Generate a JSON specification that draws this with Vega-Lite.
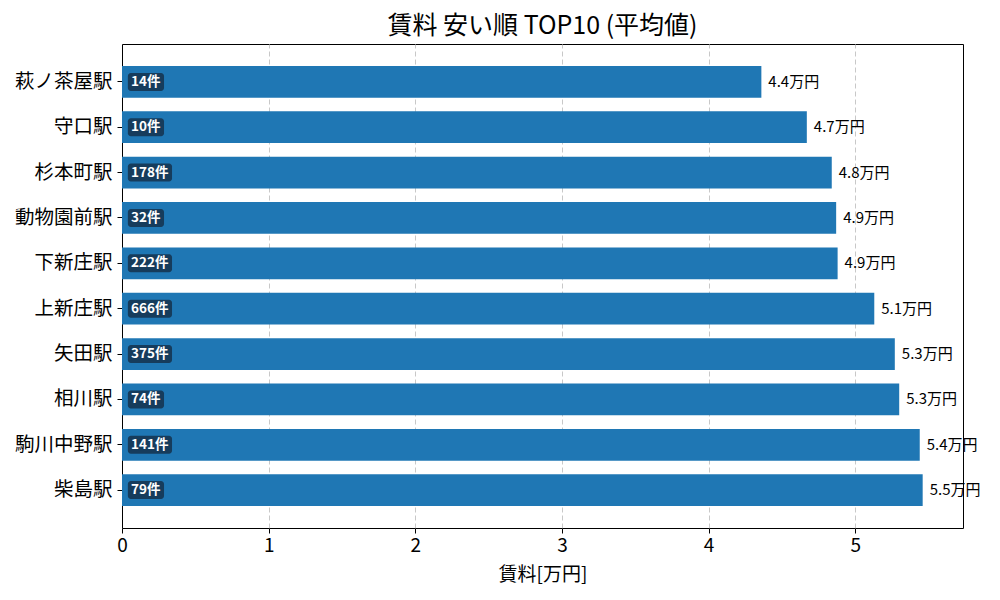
{
  "$schema": "https://vega.github.io/schema/vega-lite/v6.json",
  "autosize": {"type": "none"},
  "padding": {"left": 122, "top": 44, "right": 37, "bottom": 72},
  "width": 841,
  "height": 484,
  "title": {
    "text": "賃料 安い順 TOP10 (平均値)",
    "font": "Noto Sans CJK JP",
    "fontSize": 25,
    "fontWeight": "normal",
    "color": "#000000",
    "anchor": "middle",
    "offset": 5
  },
  "data": {
    "values": [
      {"station": "萩ノ茶屋駅", "rent": 4.36, "count": 14},
      {"station": "守口駅", "rent": 4.67, "count": 10},
      {"station": "杉本町駅", "rent": 4.84, "count": 178},
      {"station": "動物園前駅", "rent": 4.87, "count": 32},
      {"station": "下新庄駅", "rent": 4.88, "count": 222},
      {"station": "上新庄駅", "rent": 5.13, "count": 666},
      {"station": "矢田駅", "rent": 5.27, "count": 375},
      {"station": "相川駅", "rent": 5.30, "count": 74},
      {"station": "駒川中野駅", "rent": 5.44, "count": 141},
      {"station": "柴島駅", "rent": 5.46, "count": 79}
    ]
  },
  "transform": [
    {"calculate": "format(datum.rent, '.1f') + '万円'", "as": "rent_label"},
    {"calculate": "datum.count + '件'", "as": "count_label"},
    {"calculate": "(6 + 20 + 8 * length(toString(datum.count))) / 146.6", "as": "badge_end"}
  ],
  "encoding": {
    "y": {
      "field": "station",
      "type": "nominal",
      "sort": {"field": "rent", "order": "ascending"},
      "title": null,
      "scale": {"paddingInner": 0.3, "paddingOuter": 0.485},
      "axis": {
        "labelFont": "Noto Sans CJK JP",
        "labelFontSize": 19.5,
        "labelColor": "#000000",
        "tickColor": "#000000",
        "tickSize": 5,
        "labelPadding": 5,
        "domain": false,
        "grid": false
      }
    }
  },
  "layer": [
    {
      "mark": {"type": "bar", "color": "#1f77b4"},
      "encoding": {
        "x": {
          "field": "rent",
          "type": "quantitative",
          "title": "賃料[万円]",
          "scale": {"domain": [0, 5.735], "nice": false, "zero": true},
          "axis": {
            "values": [0, 1, 2, 3, 4, 5],
            "format": "d",
            "labelFlush": false,
            "labelFont": "Noto Sans CJK JP",
            "labelFontSize": 19,
            "labelColor": "#000000",
            "titleFont": "Noto Sans CJK JP",
            "titleFontSize": 19,
            "titleFontWeight": "normal",
            "titleColor": "#000000",
            "titlePadding": 10,
            "tickColor": "#000000",
            "tickSize": 5,
            "labelPadding": 3,
            "domain": false,
            "grid": true,
            "gridColor": "#c8c8c8",
            "gridDash": [5, 3],
            "gridWidth": 1,
            "gridOpacity": {"condition": {"test": "datum.value === 0", "value": 0}, "value": 1}
          }
        }
      }
    },
    {
      "mark": {"type": "bar", "color": "#163c5c", "height": 18, "cornerRadius": 3},
      "encoding": {
        "x": {"field": "badge_end", "type": "quantitative"},
        "x2": {"datum": 0.04}
      }
    },
    {
      "mark": {
        "type": "text",
        "align": "left",
        "baseline": "middle",
        "dx": 9,
        "font": "Noto Sans CJK JP",
        "fontSize": 13.5,
        "fontWeight": "bold",
        "color": "#ffffff"
      },
      "encoding": {
        "x": {"datum": 0, "type": "quantitative"},
        "text": {"field": "count_label"}
      }
    },
    {
      "mark": {
        "type": "text",
        "align": "left",
        "baseline": "middle",
        "dx": 7,
        "font": "Noto Sans CJK JP",
        "fontSize": 15,
        "color": "#000000"
      },
      "encoding": {
        "x": {"field": "rent", "type": "quantitative"},
        "text": {"field": "rent_label"}
      }
    }
  ],
  "config": {
    "view": {"stroke": "#000000", "strokeWidth": 1}
  }
}
